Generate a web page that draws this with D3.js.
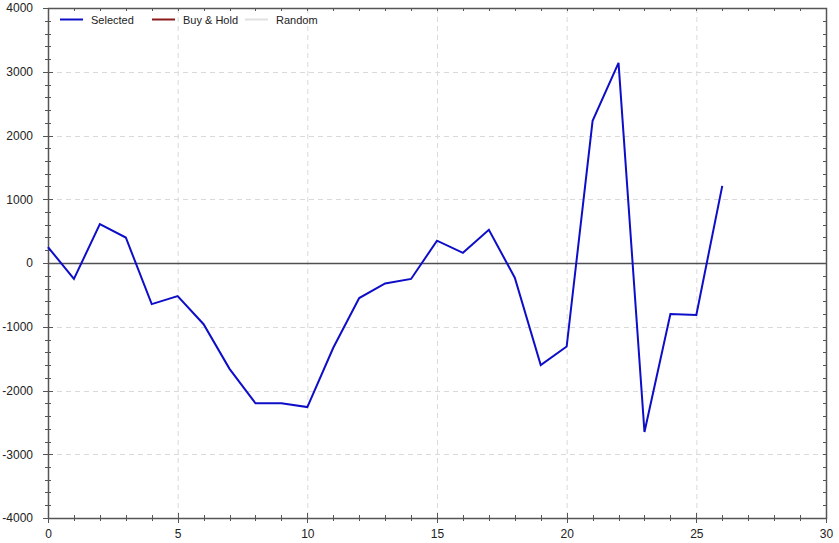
<!DOCTYPE html>
<html><head><meta charset="utf-8">
<script src="https://cdn.jsdelivr.net/npm/d3@7"></script>
<style>body{margin:0;background:#fff}svg{display:block}</style>
</head><body>
<script>
const xValues = [0,1,2,3,4,5,6,7,8,9,10,11,12,13,14,15,16,17,18,19,20,21,22,23,24,25,26];
const selected = [250,-250,610,400,-645,-520,-960,-1660,-2200,-2200,-2260,-1330,-550,-320,-250,350,160,520,-230,-1600,-1310,2230,3140,-2650,-800,-815,1210];
const xTicks = [0,5,10,15,20,25,30];
const yTicks = [-4000,-3000,-2000,-1000,0,1000,2000,3000,4000];
const legendNames = ["Selected","Buy & Hold","Random"];
const legendColors = ["#0e0ec8","#8b1a1a","#e0e0e0"];

const W=839,H=543;
const svg=d3.select("body").append("svg").attr("width",W).attr("height",H);
const L=48,R=826,T=8,B=518;
const x=d3.scaleLinear().domain([0,30]).range([L,R]);
const y=d3.scaleLinear().domain([-4000,4000]).range([B,T]);
const font="Liberation Sans, Arial, sans-serif";

// grid
svg.append("g").selectAll("line").data(xTicks.slice(1,-1)).join("line")
 .attr("x1",d=>x(d)+0.5).attr("x2",d=>x(d)+0.5).attr("y1",T).attr("y2",B)
 .attr("stroke","#dadada").attr("stroke-dasharray","5,4");
svg.append("g").selectAll("line").data(yTicks.filter(d=>d!==0&&d!==4000&&d!==-4000)).join("line")
 .attr("y1",d=>Math.round(y(d))+0.5).attr("y2",d=>Math.round(y(d))+0.5).attr("x1",L).attr("x2",R)
 .attr("stroke","#dadada").attr("stroke-dasharray","5,4");

// zero line
svg.append("line").attr("x1",L).attr("x2",R).attr("y1",Math.round(y(0))+0.5).attr("y2",Math.round(y(0))+0.5)
 .attr("stroke","#505050").attr("stroke-width",1.5);

// axes
const minorX=d3.range(0,31,1), minorY=d3.range(-4000,4001,200);
const ax=svg.append("g").attr("transform",`translate(0,${B})`)
 .call(d3.axisBottom(x).tickValues(xTicks).tickSize(0).tickPadding(11).tickFormat(d=>String(d)));
ax.select(".domain").remove();
ax.selectAll("text").attr("font-family",font).attr("font-size",12).attr("fill","#222");
const ay=svg.append("g").attr("transform",`translate(${L-15},0)`)
 .call(d3.axisLeft(y).tickValues(yTicks).tickSize(0).tickPadding(0).tickFormat(d=>String(d)));
ay.select(".domain").remove();
ay.selectAll("text").attr("font-family",font).attr("font-size",12).attr("fill","#222");

const frame=svg.append("g").attr("stroke","#555").attr("fill","none");
frame.append("rect").attr("x",L+0.5).attr("y",T+0.5).attr("width",R-L).attr("height",B-T).attr("stroke-width",1.5);
// minor ticks
frame.selectAll(".tb").data(minorX).join("line")
 .attr("x1",d=>Math.round(x(d))+0.5).attr("x2",d=>Math.round(x(d))+0.5)
 .attr("y1",B-3).attr("y2",B+3);
frame.selectAll(".tt").data(minorX).join("line").attr("class","tt")
 .attr("x1",d=>Math.round(x(d))+0.5).attr("x2",d=>Math.round(x(d))+0.5)
 .attr("y1",T).attr("y2",T+3);
frame.selectAll(".tl").data(minorY).join("line").attr("class","tl")
 .attr("y1",d=>Math.round(y(d))+0.5).attr("y2",d=>Math.round(y(d))+0.5)
 .attr("x1",L-3).attr("x2",L+3);
frame.selectAll(".tr").data(minorY).join("line").attr("class","tr")
 .attr("y1",d=>Math.round(y(d))+0.5).attr("y2",d=>Math.round(y(d))+0.5)
 .attr("x1",R-3).attr("x2",R);
// major ticks a bit longer
frame.selectAll(".mb").data(xTicks).join("line").attr("class","mb")
 .attr("x1",d=>Math.round(x(d))+0.5).attr("x2",d=>Math.round(x(d))+0.5)
 .attr("y1",B-5).attr("y2",B+5);
frame.selectAll(".ml").data(yTicks).join("line").attr("class","ml")
 .attr("y1",d=>Math.round(y(d))+0.5).attr("y2",d=>Math.round(y(d))+0.5)
 .attr("x1",L-5).attr("x2",L+5);

// series line
svg.append("path").datum(xValues.map((d,i)=>[d,selected[i]]))
 .attr("fill","none").attr("stroke",legendColors[0]).attr("stroke-width",2)
 .attr("d",d3.line().x(d=>x(d[0])).y(d=>y(d[1])));

// legend
const lx=[60,152,245];
const lg=svg.append("g");
legendNames.forEach((n,i)=>{
  lg.append("line").attr("x1",lx[i]).attr("x2",lx[i]+23).attr("y1",19.5).attr("y2",19.5)
   .attr("stroke",legendColors[i]).attr("stroke-width",2);
  lg.append("text").attr("x",lx[i]+31).attr("y",23.5).text(n)
   .attr("font-family",font).attr("font-size",11).attr("fill","#222");
});
</script>
</body></html>
